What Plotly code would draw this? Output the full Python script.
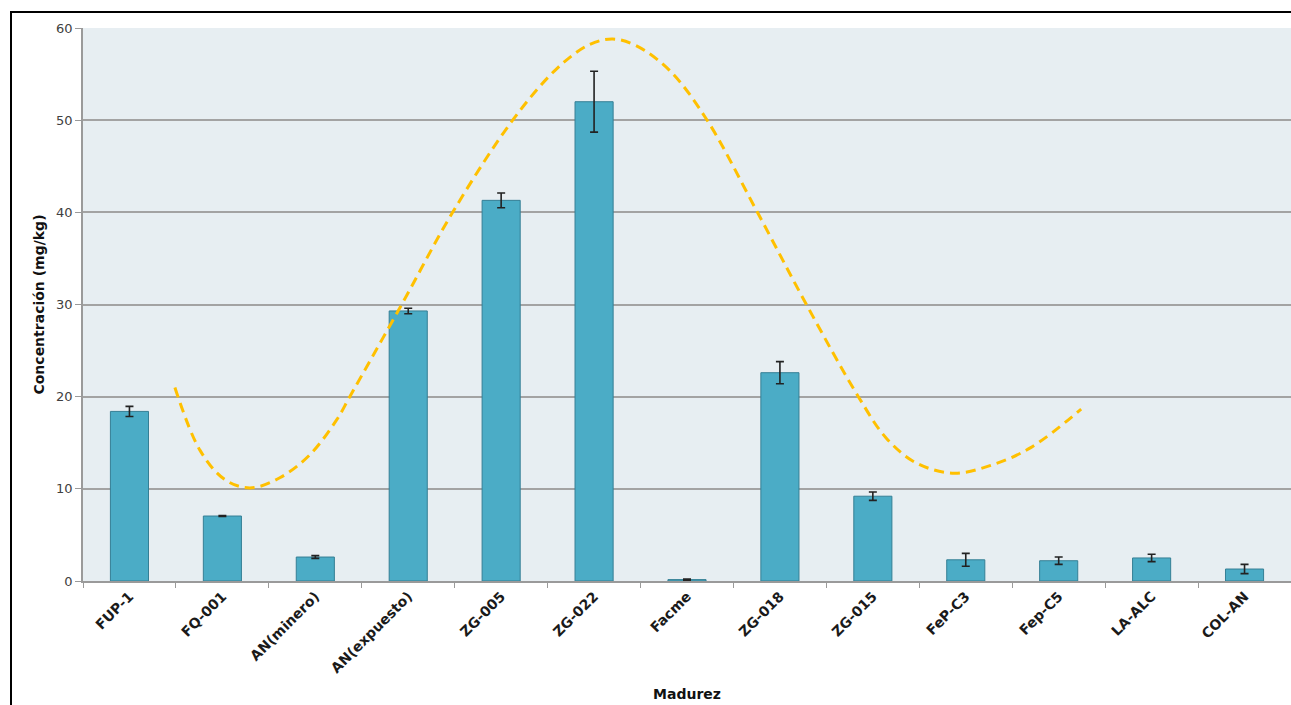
import plotly.graph_objects as go

categories = ["FUP-1", "FQ-001", "AN(minero)", "AN(expuesto)", "ZG-005", "ZG-022",
              "Facme", "ZG-018", "ZG-015", "FeP-C3", "Fep-C5", "LA-ALC", "COL-AN"]
values = [18.4, 7.05, 2.6, 29.3, 41.3, 52.0, 0.15, 22.6, 9.2, 2.3, 2.2, 2.5, 1.3]
errors = [0.55, 0.05, 0.15, 0.3, 0.8, 3.3, 0.05, 1.2, 0.45, 0.7, 0.4, 0.4, 0.5]

# trend curve (x in category-index units)
trend_x = [0.489, 0.758, 1.027, 1.296, 1.618, 1.941, 2.231, 2.371, 2.930, 3.478,
           4.124, 4.600, 4.950, 5.199, 5.450, 5.812, 6.210, 6.758, 7.285, 7.844,
           8.145, 8.468, 8.876, 9.285, 9.704, 10.242]
trend_y = [21.0, 14.2, 11.0, 10.1, 11.2, 13.7, 17.5, 20.0, 30.0, 40.0,
           50.0, 55.6, 58.2, 58.8, 58.1, 55.4, 50.1, 40.0, 30.0, 20.0,
           15.5, 12.8, 11.7, 12.6, 14.5, 18.65]

W, H = 1291, 705
L, R, T, B = 83, 0, 28, 124

fig = go.Figure()
fig.add_trace(go.Bar(
    x=categories, y=values,
    marker=dict(color="#4bacc6", line=dict(color="#357f95", width=1)),
    error_y=dict(type="data", array=errors, color="#222222", thickness=1.6, width=4),
    showlegend=False, hoverinfo="x+y",
))
fig.add_trace(go.Scatter(
    x=trend_x, y=trend_y, xaxis="x2", mode="lines",
    line=dict(color="#ffc000", width=3, dash="10px,6px", shape="spline", smoothing=1.0),
    showlegend=False, hoverinfo="skip",
))

font_family = "DejaVu Sans, Lato, sans-serif"

fig.update_layout(
    width=W, height=H,
    margin=dict(l=L, r=R, t=T, b=B),
    paper_bgcolor="white",
    plot_bgcolor="#e7eef2",
    bargap=0.59,
    font=dict(family=font_family, color="#222222"),
    xaxis=dict(
        type="category", range=[-0.5, 12.5], tickson="boundaries",
        ticks="outside", ticklen=5, tickcolor="#9a9a9a", tickwidth=1,
        showline=True, linecolor="#9a9a9a", linewidth=1.5,
        showgrid=False, tickangle=-45,
        tickfont=dict(family=font_family, size=14, color="#1a1a1a", weight="bold"),
        title=dict(text="<b>Madurez</b>", font=dict(size=14, color="#111111"), standoff=14),
    ),
    xaxis2=dict(overlaying="x", range=[-0.5, 12.5], visible=False, showgrid=False),
    yaxis=dict(
        range=[0, 60], dtick=10, ticks="outside", ticklen=6, tickcolor="#9a9a9a",
        showline=True, linecolor="#9a9a9a", linewidth=1.5,
        showgrid=True, gridcolor="#a3a3a3", gridwidth=1.5, zeroline=False,
        tickfont=dict(family=font_family, size=13, color="#404040"),
        title=dict(text="<b>Concentración (mg/kg)</b>", font=dict(size=14, color="#111111"), standoff=8),
    ),
)

pw, ph = W - L - R, H - T - B
fig.add_shape(type="rect", xref="paper", yref="paper",
              x0=(11 - L) / pw, x1=(W + 20 - L) / pw,
              y0=-(H + 20 - (H - B)) / ph, y1=((H - B) - 12) / ph,
              line=dict(color="black", width=2), fillcolor="rgba(0,0,0,0)", layer="below")

fig.write_html(
    "out.html",
    config={"displayModeBar": False},
    post_script="document.body.style.margin='0';document.documentElement.style.overflow='hidden';document.body.style.overflow='hidden';",
)
